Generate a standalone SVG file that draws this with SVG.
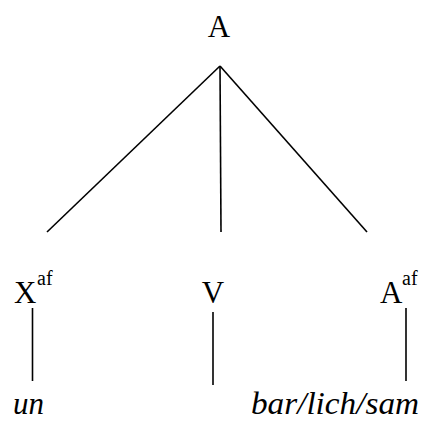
<svg xmlns="http://www.w3.org/2000/svg" width="424" height="421" viewBox="0 0 424 421">
<style>
.lbl{font-family:'Liberation Serif','Times New Roman',serif;font-size:31px;fill:#000}
.sup{font-family:'Liberation Serif','Times New Roman',serif;font-size:20px;fill:#000}
.it{font-family:'Liberation Serif','Times New Roman',serif;font-size:31px;font-style:italic;fill:#000}
.edge{stroke:#000;stroke-width:1.6;fill:none}
</style>
<rect width="424" height="421" fill="#fff"/>
<g id="connectors">
<line class="edge" x1="220" y1="66" x2="47" y2="232"/>
<line class="edge" x1="220" y1="66" x2="221" y2="232"/>
<line class="edge" x1="220" y1="66" x2="367" y2="232"/>
<line class="edge" x1="32.5" y1="308" x2="32.5" y2="381"/>
<line class="edge" x1="213" y1="312" x2="213" y2="385"/>
<line class="edge" x1="406" y1="308" x2="406" y2="381"/>
</g>
<g id="node-A-top"><text class="lbl" x="219" y="37" text-anchor="middle">A</text></g>
<g id="node-X"><text class="lbl" x="14" y="303">X</text><text class="sup" x="37" y="285">af</text></g>
<g id="node-V"><text class="lbl" x="213" y="303" text-anchor="middle">V</text></g>
<g id="node-A"><text class="lbl" x="380" y="303">A</text><text class="sup" x="402" y="285">af</text></g>
<g id="leaf-un"><text class="it" x="13" y="414">un</text></g>
<g id="leaf-bar"><text class="it" x="251" y="414" textLength="168" lengthAdjust="spacingAndGlyphs">bar/lich/sam</text></g>
</svg>
